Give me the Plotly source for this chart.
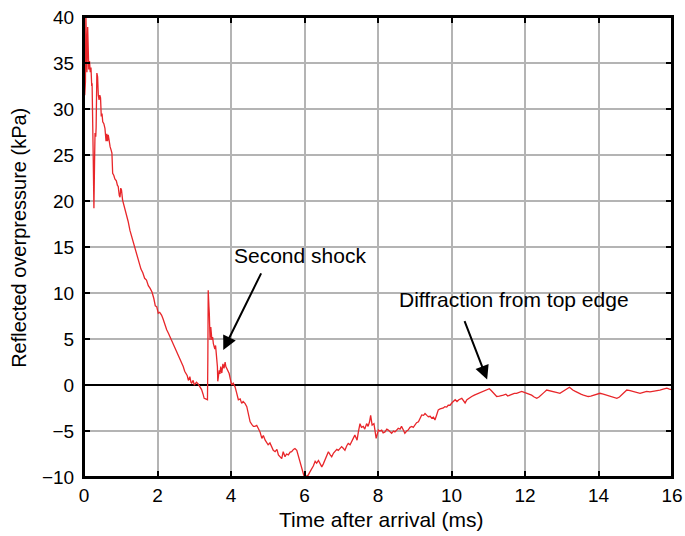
import plotly.graph_objects as go

# Time after arrival (ms)
t = [0.02,0.04,0.05,0.07,0.08,0.10,0.11,0.13,0.15,0.17,0.19,0.21,0.22,0.25,0.27,0.29,0.30,0.32,0.33,0.35,
     0.37,0.39,0.41,0.43,0.45,0.47,0.49,0.51,0.54,0.57,0.60,0.62,0.64,0.66,0.69,0.71,0.74,0.76,0.78,0.81,
     0.84,0.88,0.91,0.93,0.96,0.98,1.00,1.02,1.05,1.07,1.10,1.13,1.16,1.20,1.25,1.30,1.35,1.39,1.45,1.50,
     1.55,1.60,1.65,1.70,1.75,1.80,1.85,1.90,1.94,1.98,2.02,2.06,2.11,2.15,2.20,2.25,2.30,2.34,2.38,2.43,
     2.47,2.52,2.57,2.62,2.66,2.70,2.74,2.78,2.81,2.84,2.88,2.91,2.93,2.97,3.00,3.02,3.06,3.11,3.15,3.20,
     3.24,3.27,3.31,3.36,3.37,3.38,3.40,3.41,3.43,3.45,3.48,3.50,3.52,3.56,3.58,3.61,3.63,3.64,3.66,3.68,
     3.70,3.72,3.75,3.78,3.81,3.84,3.86,3.88,3.92,3.95,3.99,4.02,4.06,4.11,4.15,4.20,4.25,4.29,4.33,4.38,
     4.43,4.47,4.52,4.57,4.61,4.65,4.70,4.74,4.79,4.84,4.88,4.93,4.97,5.01,5.06,5.10,5.15,5.20,5.25,5.29,
     5.33,5.38,5.42,5.47,5.51,5.56,5.61,5.65,5.70,5.74,5.79,5.84,5.88,5.92,5.95,5.98,6.01,6.05,6.10,6.14,
     6.19,6.24,6.29,6.33,6.38,6.42,6.47,6.51,6.56,6.60,6.65,6.70,6.74,6.79,6.83,6.88,6.92,6.97,7.01,7.06,
     7.10,7.15,7.19,7.24,7.28,7.33,7.37,7.40,7.43,7.47,7.51,7.55,7.60,7.64,7.69,7.73,7.77,7.80,7.84,7.89,
     7.92,7.95,8.01,8.05,8.10,8.14,8.19,8.24,8.28,8.33,8.37,8.42,8.46,8.51,8.55,8.60,8.64,8.69,8.73,8.78,
     8.82,8.87,8.92,8.96,9.00,9.05,9.10,9.14,9.19,9.24,9.28,9.33,9.37,9.42,9.46,9.51,9.55,9.60,9.64,9.69,
     9.73,9.78,9.82,9.87,9.91,9.96,10.02,10.10,10.15,10.20,10.28,10.33,10.37,10.42,10.48,10.55,10.62,10.68,10.73,10.79,
     10.84,10.90,10.97,11.03,11.08,11.12,11.18,11.23,11.30,11.36,11.41,11.48,11.53,11.59,11.65,11.71,11.77,11.84,11.91,11.98,
     12.05,12.11,12.18,12.25,12.32,12.38,12.45,12.52,12.59,12.66,12.72,12.77,12.85,12.95,13.02,13.09,13.15,13.21,13.26,13.30,
     13.37,13.45,13.52,13.59,13.66,13.72,13.79,13.86,13.95,14.04,14.13,14.22,14.29,14.36,14.43,14.50,14.57,14.63,14.70,14.77,
     14.86,14.95,15.04,15.13,15.22,15.31,15.40,15.49,15.58,15.67,15.76,15.86,15.93,15.99]

# Reflected overpressure (kPa)
p = [31.5,33.0,40.5,35.5,34.0,38.9,35.0,34.3,35.2,34.0,34.5,32.5,32.8,25.0,19.2,25.0,27.4,27.0,28.0,33.9,
     33.5,31.5,31.0,31.5,31.2,29.2,29.5,28.6,28.4,27.9,26.5,27.3,26.5,27.2,26.0,25.9,25.5,25.2,23.0,22.8,
     22.4,22.2,21.7,21.6,20.6,20.4,21.4,21.2,20.1,19.8,19.4,19.0,18.7,17.8,16.8,16.1,15.4,14.9,14.0,13.3,
     12.6,12.2,11.6,11.4,10.8,10.5,10.1,9.4,8.6,8.5,7.8,7.9,7.6,7.2,6.5,6.0,5.6,5.25,4.9,4.35,
     4.0,3.7,3.1,2.8,2.3,2.0,1.5,1.2,1.0,0.5,0.9,0.3,0.2,0.5,0.0,0.1,0.3,0.1,-0.2,-0.5,
     -1.0,-1.45,-1.5,-1.6,3.0,10.3,8.5,7.8,4.9,6.3,4.9,5.2,4.5,3.9,4.3,3.1,2.0,0.4,1.0,1.6,
     1.2,2.0,1.3,2.3,1.8,2.5,2.0,1.85,1.5,1.25,0.5,0.0,0.2,-0.2,-0.8,-1.6,-1.5,-2.0,-1.8,-2.0,
     -2.35,-3.0,-4.0,-4.3,-4.5,-4.5,-4.4,-4.7,-5.1,-5.8,-5.5,-6.0,-6.2,-6.5,-6.3,-6.7,-7.1,-7.25,-7.0,-7.6,
     -7.8,-8.0,-7.25,-7.8,-7.5,-7.6,-7.3,-7.25,-7.0,-6.9,-7.1,-7.8,-8.5,-9.0,-9.4,-9.8,-10.0,-9.9,-9.8,-9.5,
     -9.2,-8.8,-8.3,-8.5,-8.2,-8.6,-8.9,-8.6,-8.15,-7.6,-7.25,-7.6,-7.8,-7.4,-7.25,-7.0,-7.1,-6.8,-6.7,-6.9,
     -7.1,-6.6,-6.35,-6.5,-6.2,-5.8,-5.45,-5.7,-6.0,-5.0,-4.2,-4.6,-4.5,-4.8,-4.2,-4.5,-4.0,-3.3,-4.35,-4.2,
     -5.0,-5.8,-4.9,-5.0,-4.9,-5.2,-5.1,-4.8,-4.9,-5.1,-5.25,-5.0,-5.1,-4.9,-4.7,-4.8,-4.5,-4.9,-5.25,-5.0,
     -4.9,-4.6,-4.5,-4.6,-4.35,-4.1,-4.0,-3.6,-3.25,-3.3,-3.1,-3.3,-3.45,-3.4,-3.6,-3.5,-3.8,-3.2,-2.7,-2.6,
     -2.55,-2.5,-2.35,-2.4,-2.2,-2.2,-1.9,-1.6,-1.8,-1.6,-1.45,-1.7,-1.95,-1.6,-1.4,-1.25,-1.1,-1.0,-0.9,-0.8,
     -0.7,-0.6,-0.5,-0.4,-0.6,-0.8,-1.1,-1.25,-1.2,-1.1,-1.1,-1.0,-1.2,-1.1,-1.0,-0.9,-0.9,-0.8,-0.7,-0.8,
     -0.9,-1.0,-1.1,-1.3,-1.45,-1.3,-1.1,-0.8,-0.55,-0.6,-0.7,-0.7,-0.8,-0.9,-0.7,-0.55,-0.4,-0.25,-0.4,-0.55,
     -0.7,-0.9,-1.0,-1.1,-1.2,-1.25,-1.2,-1.1,-1.0,-0.9,-1.0,-1.1,-1.2,-1.25,-1.35,-1.45,-1.3,-1.1,-0.8,-0.55,
     -0.6,-0.7,-0.8,-0.9,-0.8,-0.7,-0.75,-0.7,-0.6,-0.55,-0.45,-0.35,-0.45,-0.5]

x_ticks = [0, 2, 4, 6, 8, 10, 12, 14, 16]
y_ticks = [-10, -5, 0, 5, 10, 15, 20, 25, 30, 35, 40]

x_title = "Time after arrival (ms)"
y_title = "Reflected overpressure (kPa)"
note_labels = ["Second shock", "Diffraction from top edge"]
note_text_xy = [(5.88, 14.1), (11.69, 9.25)]   # label centre (data units)
note_head_xy = [(3.79, 3.8), (10.97, 0.6)]     # arrow tip (data units)
note_tail_xy = [(4.84, 12.3), (10.34, 7.1)]    # arrow tail (data units)

FONT = "Liberation Sans, Arial, Helvetica, sans-serif"

fig = go.Figure()
fig.add_trace(go.Scatter(x=t, y=p, mode="lines",
                         line=dict(color="#e8262a", width=1.3),
                         showlegend=False, hoverinfo="skip"))

for lab, (tx, ty) in zip(note_labels, note_text_xy):
    fig.add_annotation(x=tx, y=ty, xref="x", yref="y", text=lab, showarrow=False,
                       font=dict(family=FONT, size=21, color="black"))

for (hx, hy), (tx, ty) in zip(note_head_xy, note_tail_xy):
    fig.add_annotation(x=hx, y=hy, ax=tx, ay=ty, xref="x", yref="y",
                       axref="x", ayref="y", text="", showarrow=True,
                       arrowhead=2, arrowsize=1.4, arrowwidth=2, arrowcolor="black")

# axis titles placed in paper space
fig.add_annotation(x=0.506, y=-0.063, xref="paper", yref="paper", xanchor="center",
                   yanchor="top", text=x_title, showarrow=False,
                   font=dict(family=FONT, size=21, color="black"))
fig.add_annotation(x=-0.1105, y=0.52, xref="paper", yref="paper", xanchor="center",
                   yanchor="middle", textangle=-90, text=y_title, showarrow=False,
                   font=dict(family=FONT, size=20, color="black"))

# frame around the plotting area
fig.add_shape(type="rect", xref="paper", yref="paper", x0=0, y0=0, x1=1, y1=1,
              line=dict(color="black", width=2), layer="above")

axis_common = dict(showline=True, linecolor="black", linewidth=2, mirror="ticks",
                   ticks="inside", ticklen=6, tickwidth=1.5, tickcolor="black",
                   showgrid=True, gridcolor="#b4b4b4", gridwidth=1.5, automargin=False,
                   ticklabeloverflow="allow",
                   tickfont=dict(family=FONT, size=19, color="black"))

fig.update_xaxes(range=[0, 16], tickvals=x_ticks, zeroline=False, **axis_common)
fig.update_yaxes(range=[-10, 40], tickvals=y_ticks, zeroline=True, zerolinecolor="black",
                 zerolinewidth=1.5, ticklabelstandoff=4, **axis_common)

fig.update_layout(width=685, height=536, plot_bgcolor="white", paper_bgcolor="white",
                  margin=dict(l=84, r=13, t=17, b=59),
                  font=dict(family=FONT, color="black"))

# remove the browser's default page margin so the figure sits at the window's corner
fig.write_html("out.html", config={"displayModeBar": False},
               post_script="document.body.style.margin='0';"
                           "document.documentElement.style.overflow='hidden';")
